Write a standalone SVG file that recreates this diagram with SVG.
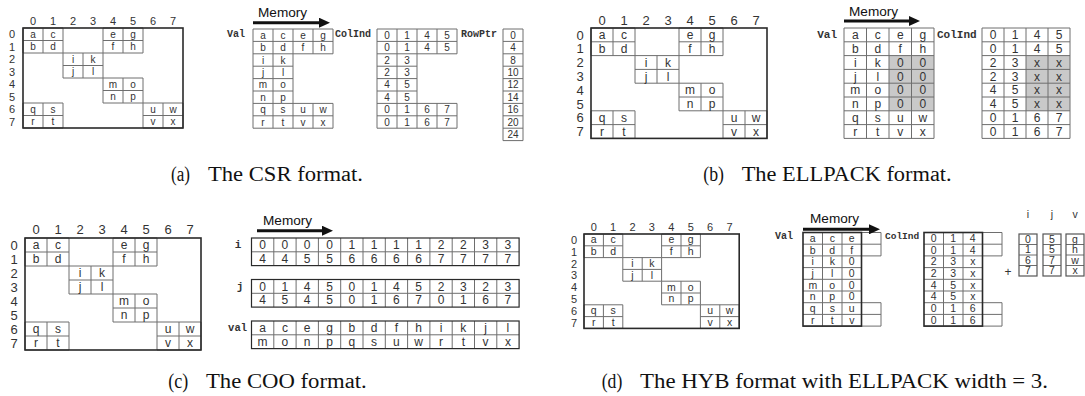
<svg xmlns="http://www.w3.org/2000/svg" width="1085" height="396" viewBox="0 0 1085 396">
<style>
.g{fill:none;stroke:#6e6e6e;stroke-width:1}
.fr{fill:none;stroke:#2a2a2a;stroke-width:1.6}
.sh{fill:#c9c9c9;stroke:none}
text{font-family:"Liberation Sans",Arial,sans-serif;fill:#333;text-anchor:middle}
.s10 text{font-size:10px}
.s105 text{font-size:10.5px}
.s11 text{font-size:11px}
.s12 text{font-size:12px}
.s13 text{font-size:13px}
text.mono{font-family:"Liberation Mono","Courier New",monospace;font-weight:bold;fill:#333}
text.mem{font-size:13.6px;fill:#111;text-anchor:start}
text.cap{font-family:"Liberation Serif","Times New Roman",serif;font-size:20.5px;fill:#111;text-anchor:start}
.arr{stroke:#111;stroke-width:3;fill:none}
</style>
<defs>
<marker id="ah" viewBox="0 0 11 10" refX="3" refY="5" markerWidth="11" markerHeight="10" markerUnits="userSpaceOnUse" orient="auto"><path d="M0,0 L11,5 L0,10 z" fill="#111"/></marker>
</defs>

<!-- ===== Panel (a) ===== -->
<g id="a-matrix">
<path class="g" d="M23 28h40v25h-40zM43 28v25M23 40.5h40M103 28h40v25h-40zM123 28v25M103 40.5h40M63 53h40v25h-40zM83 53v25M63 65.5h40M103 78h40v25h-40zM123 78v25M103 90.5h40M23 103h40v25h-40zM43 103v25M23 115.5h40M143 103h40v25h-40zM163 103v25M143 115.5h40"/>
<rect class="fr" x="23" y="28" width="160" height="100"/>
<g class="s11">
<text x="33" y="25">0</text><text x="53" y="25">1</text><text x="73" y="25">2</text><text x="93" y="25">3</text><text x="113" y="25">4</text><text x="133" y="25">5</text><text x="153" y="25">6</text><text x="173" y="25">7</text>
<text x="12" y="38.25">0</text><text x="12" y="50.75">1</text><text x="12" y="63.25">2</text><text x="12" y="75.75">3</text><text x="12" y="88.25">4</text><text x="12" y="100.75">5</text><text x="12" y="113.25">6</text><text x="12" y="125.75">7</text>
</g>
<g class="s10">
<text x="33" y="37.75">a</text><text x="53" y="37.75">c</text><text x="113" y="37.75">e</text><text x="133" y="37.75">g</text>
<text x="33" y="50.25">b</text><text x="53" y="50.25">d</text><text x="113" y="50.25">f</text><text x="133" y="50.25">h</text>
<text x="73" y="62.75">i</text><text x="93" y="62.75">k</text>
<text x="73" y="75.25">j</text><text x="93" y="75.25">l</text>
<text x="113" y="87.75">m</text><text x="133" y="87.75">o</text>
<text x="113" y="100.25">n</text><text x="133" y="100.25">p</text>
<text x="33" y="112.75">q</text><text x="53" y="112.75">s</text><text x="153" y="112.75">u</text><text x="173" y="112.75">w</text>
<text x="33" y="125.25">r</text><text x="53" y="125.25">t</text><text x="153" y="125.25">v</text><text x="173" y="125.25">x</text>
</g>
</g>

<g id="a-val">
<text class="mono" x="245" y="37" style="font-size:10px;text-anchor:end">Val</text>
<path class="g" d="M253 29H333M253 41.4H333M253 53.8H333M253 66.2H293M253 78.6H293M253 91H293M253 103.4H333M253 115.8H333M253 128.2H333M253 29V128.2M273 29V128.2M293 29V128.2M313 29V53.8M313 103.4V128.2M333 29V53.8M333 103.4V128.2"/>
<g class="s10">
<text x="263" y="38.7">a</text><text x="283" y="38.7">c</text><text x="303" y="38.7">e</text><text x="323" y="38.7">g</text>
<text x="263" y="51.1">b</text><text x="283" y="51.1">d</text><text x="303" y="51.1">f</text><text x="323" y="51.1">h</text>
<text x="263" y="63.5">i</text><text x="283" y="63.5">k</text>
<text x="263" y="75.9">j</text><text x="283" y="75.9">l</text>
<text x="263" y="88.3">m</text><text x="283" y="88.3">o</text>
<text x="263" y="100.7">n</text><text x="283" y="100.7">p</text>
<text x="263" y="113.1">q</text><text x="283" y="113.1">s</text><text x="303" y="113.1">u</text><text x="323" y="113.1">w</text>
<text x="263" y="125.5">r</text><text x="283" y="125.5">t</text><text x="303" y="125.5">v</text><text x="323" y="125.5">x</text>
</g>
</g>

<g id="a-colind">
<text class="mono" x="335" y="37" style="font-size:10px;text-anchor:start">ColInd</text>
<path class="g" d="M377 29H457M377 41.4H457M377 53.8H457M377 66.2H417M377 78.6H417M377 91H417M377 103.4H457M377 115.8H457M377 128.2H457M377 29V128.2M397 29V128.2M417 29V128.2M437 29V53.8M437 103.4V128.2M457 29V53.8M457 103.4V128.2"/>
<g class="s10">
<text x="387" y="38.7">0</text><text x="407" y="38.7">1</text><text x="427" y="38.7">4</text><text x="447" y="38.7">5</text>
<text x="387" y="51.1">0</text><text x="407" y="51.1">1</text><text x="427" y="51.1">4</text><text x="447" y="51.1">5</text>
<text x="387" y="63.5">2</text><text x="407" y="63.5">3</text>
<text x="387" y="75.9">2</text><text x="407" y="75.9">3</text>
<text x="387" y="88.3">4</text><text x="407" y="88.3">5</text>
<text x="387" y="100.7">4</text><text x="407" y="100.7">5</text>
<text x="387" y="113.1">0</text><text x="407" y="113.1">1</text><text x="427" y="113.1">6</text><text x="447" y="113.1">7</text>
<text x="387" y="125.5">0</text><text x="407" y="125.5">1</text><text x="427" y="125.5">6</text><text x="447" y="125.5">7</text>
</g>
</g>

<g id="a-rowptr">
<text class="mono" x="461" y="37" style="font-size:10px;text-anchor:start">RowPtr</text>
<path class="g" d="M503 29H523M503 41.4H523M503 53.8H523M503 66.2H523M503 78.6H523M503 91H523M503 103.4H523M503 115.8H523M503 128.2H523M503 140.6H523M503 29V140.6M523 29V140.6"/>
<g class="s10">
<text x="513" y="38.7">0</text><text x="513" y="51.1">4</text><text x="513" y="63.5">8</text><text x="513" y="75.9">10</text><text x="513" y="88.3">12</text><text x="513" y="100.7">14</text><text x="513" y="113.1">16</text><text x="513" y="125.5">20</text><text x="513" y="137.9">24</text>
</g>
</g>

<g id="a-caption">
<text class="cap" x="171" y="181" textLength="19" lengthAdjust="spacingAndGlyphs">(a)</text>
<text class="cap" x="208" y="181" textLength="155" lengthAdjust="spacingAndGlyphs">The CSR format.</text>
</g>

<!-- ===== Panel (b) ===== -->
<g id="b-matrix">
<path class="g" d="M591 28h44v27.6h-44zM613 28v27.6M591 41.8h44M679 28h44v27.6h-44zM701 28v27.6M679 41.8h44M635 55.6h44v27.6h-44zM657 55.6v27.6M635 69.4h44M679 83.2h44v27.6h-44zM701 83.2v27.6M679 97h44M591 110.8h44v27.6h-44zM613 110.8v27.6M591 124.6h44M723 110.8h44v27.6h-44zM745 110.8v27.6M723 124.6h44"/>
<rect class="fr" x="591" y="28" width="176" height="110.4"/>
<g class="s13">
<text x="602" y="24.5">0</text><text x="624" y="24.5">1</text><text x="646" y="24.5">2</text><text x="668" y="24.5">3</text><text x="690" y="24.5">4</text><text x="712" y="24.5">5</text><text x="734" y="24.5">6</text><text x="756" y="24.5">7</text>
<text x="580" y="39.6">0</text><text x="580" y="53.4">1</text><text x="580" y="67.2">2</text><text x="580" y="81">3</text><text x="580" y="94.8">4</text><text x="580" y="108.6">5</text><text x="580" y="122.4">6</text><text x="580" y="136.2">7</text>
</g>
<g class="s12">
<text x="602" y="39.1">a</text><text x="624" y="39.1">c</text><text x="690" y="39.1">e</text><text x="712" y="39.1">g</text>
<text x="602" y="52.9">b</text><text x="624" y="52.9">d</text><text x="690" y="52.9">f</text><text x="712" y="52.9">h</text>
<text x="646" y="66.7">i</text><text x="668" y="66.7">k</text>
<text x="646" y="80.5">j</text><text x="668" y="80.5">l</text>
<text x="690" y="94.3">m</text><text x="712" y="94.3">o</text>
<text x="690" y="108.1">n</text><text x="712" y="108.1">p</text>
<text x="602" y="121.9">q</text><text x="624" y="121.9">s</text><text x="734" y="121.9">u</text><text x="756" y="121.9">w</text>
<text x="602" y="135.7">r</text><text x="624" y="135.7">t</text><text x="734" y="135.7">v</text><text x="756" y="135.7">x</text>
</g>
</g>

<g id="b-val">
<text class="mono" x="837" y="38" style="font-size:11px;text-anchor:end">Val</text>
<rect class="sh" x="889" y="55.6" width="45" height="55.2"/>
<path class="g" d="M844 28H934M844 41.8H934M844 55.6H934M844 69.4H934M844 83.2H934M844 97H934M844 110.8H934M844 124.6H934M844 138.4H934M844 28V138.4M866.5 28V138.4M889 28V138.4M911.5 28V138.4M934 28V138.4"/>
<g class="s12">
<text x="855.25" y="39.1">a</text><text x="877.75" y="39.1">c</text><text x="900.25" y="39.1">e</text><text x="922.75" y="39.1">g</text>
<text x="855.25" y="52.9">b</text><text x="877.75" y="52.9">d</text><text x="900.25" y="52.9">f</text><text x="922.75" y="52.9">h</text>
<text x="855.25" y="66.7">i</text><text x="877.75" y="66.7">k</text><text x="900.25" y="66.7">0</text><text x="922.75" y="66.7">0</text>
<text x="855.25" y="80.5">j</text><text x="877.75" y="80.5">l</text><text x="900.25" y="80.5">0</text><text x="922.75" y="80.5">0</text>
<text x="855.25" y="94.3">m</text><text x="877.75" y="94.3">o</text><text x="900.25" y="94.3">0</text><text x="922.75" y="94.3">0</text>
<text x="855.25" y="108.1">n</text><text x="877.75" y="108.1">p</text><text x="900.25" y="108.1">0</text><text x="922.75" y="108.1">0</text>
<text x="855.25" y="121.9">q</text><text x="877.75" y="121.9">s</text><text x="900.25" y="121.9">u</text><text x="922.75" y="121.9">w</text>
<text x="855.25" y="135.7">r</text><text x="877.75" y="135.7">t</text><text x="900.25" y="135.7">v</text><text x="922.75" y="135.7">x</text>
</g>
</g>

<g id="b-colind">
<text class="mono" x="937" y="38" style="font-size:11px;text-anchor:start">ColInd</text>
<rect class="sh" x="1026" y="55.6" width="44" height="55.2"/>
<path class="g" d="M982 28H1070M982 41.8H1070M982 55.6H1070M982 69.4H1070M982 83.2H1070M982 97H1070M982 110.8H1070M982 124.6H1070M982 138.4H1070M982 28V138.4M1004 28V138.4M1026 28V138.4M1048 28V138.4M1070 28V138.4"/>
<g class="s12">
<text x="993" y="39.1">0</text><text x="1015" y="39.1">1</text><text x="1037" y="39.1">4</text><text x="1059" y="39.1">5</text>
<text x="993" y="52.9">0</text><text x="1015" y="52.9">1</text><text x="1037" y="52.9">4</text><text x="1059" y="52.9">5</text>
<text x="993" y="66.7">2</text><text x="1015" y="66.7">3</text><text x="1037" y="66.7">x</text><text x="1059" y="66.7">x</text>
<text x="993" y="80.5">2</text><text x="1015" y="80.5">3</text><text x="1037" y="80.5">x</text><text x="1059" y="80.5">x</text>
<text x="993" y="94.3">4</text><text x="1015" y="94.3">5</text><text x="1037" y="94.3">x</text><text x="1059" y="94.3">x</text>
<text x="993" y="108.1">4</text><text x="1015" y="108.1">5</text><text x="1037" y="108.1">x</text><text x="1059" y="108.1">x</text>
<text x="993" y="121.9">0</text><text x="1015" y="121.9">1</text><text x="1037" y="121.9">6</text><text x="1059" y="121.9">7</text>
<text x="993" y="135.7">0</text><text x="1015" y="135.7">1</text><text x="1037" y="135.7">6</text><text x="1059" y="135.7">7</text>
</g>
</g>

<g id="b-caption">
<text class="cap" x="703.3" y="181" textLength="20.7" lengthAdjust="spacingAndGlyphs">(b)</text>
<text class="cap" x="741.7" y="181" textLength="210" lengthAdjust="spacingAndGlyphs">The ELLPACK format.</text>
</g>

<!-- ===== Panel (c) ===== -->
<g id="c-matrix">
<path class="g" d="M25 238h44v28h-44zM47 238v28M25 252h44M113 238h44v28h-44zM135 238v28M113 252h44M69 266h44v28h-44zM91 266v28M69 280h44M113 294h44v28h-44zM135 294v28M113 308h44M25 322h44v28h-44zM47 322v28M25 336h44M157 322h44v28h-44zM179 322v28M157 336h44"/>
<rect class="fr" x="25" y="238" width="176" height="112"/>
<g class="s13">
<text x="36" y="234">0</text><text x="58" y="234">1</text><text x="80" y="234">2</text><text x="102" y="234">3</text><text x="124" y="234">4</text><text x="146" y="234">5</text><text x="168" y="234">6</text><text x="190" y="234">7</text>
<text x="14" y="249.7">0</text><text x="14" y="263.7">1</text><text x="14" y="277.7">2</text><text x="14" y="291.7">3</text><text x="14" y="305.7">4</text><text x="14" y="319.7">5</text><text x="14" y="333.7">6</text><text x="14" y="347.7">7</text>
</g>
<g class="s12">
<text x="36" y="249.2">a</text><text x="58" y="249.2">c</text><text x="124" y="249.2">e</text><text x="146" y="249.2">g</text>
<text x="36" y="263.2">b</text><text x="58" y="263.2">d</text><text x="124" y="263.2">f</text><text x="146" y="263.2">h</text>
<text x="80" y="277.2">i</text><text x="102" y="277.2">k</text>
<text x="80" y="291.2">j</text><text x="102" y="291.2">l</text>
<text x="124" y="305.2">m</text><text x="146" y="305.2">o</text>
<text x="124" y="319.2">n</text><text x="146" y="319.2">p</text>
<text x="36" y="333.2">q</text><text x="58" y="333.2">s</text><text x="168" y="333.2">u</text><text x="190" y="333.2">w</text>
<text x="36" y="347.2">r</text><text x="58" y="347.2">t</text><text x="168" y="347.2">v</text><text x="190" y="347.2">x</text>
</g>
</g>

<g id="c-i">
<text class="mono" x="238" y="248" style="font-size:11px">i</text>
<path class="g" d="M251.5 251.8H519.1M273.8 238V265.6M296.1 238V265.6M318.4 238V265.6M340.7 238V265.6M363 238V265.6M385.3 238V265.6M407.6 238V265.6M429.9 238V265.6M452.2 238V265.6M474.5 238V265.6M496.8 238V265.6"/>
<rect class="fr" style="stroke-width:1.2" x="251.5" y="238" width="267.6" height="27.6"/>
<g class="s12">
<text x="262.6" y="249.1">0</text><text x="284.9" y="249.1">0</text><text x="307.2" y="249.1">0</text><text x="329.5" y="249.1">0</text><text x="351.8" y="249.1">1</text><text x="374.1" y="249.1">1</text><text x="396.4" y="249.1">1</text><text x="418.7" y="249.1">1</text><text x="441" y="249.1">2</text><text x="463.3" y="249.1">2</text><text x="485.6" y="249.1">3</text><text x="507.9" y="249.1">3</text>
<text x="262.6" y="262.9">4</text><text x="284.9" y="262.9">4</text><text x="307.2" y="262.9">5</text><text x="329.5" y="262.9">5</text><text x="351.8" y="262.9">6</text><text x="374.1" y="262.9">6</text><text x="396.4" y="262.9">6</text><text x="418.7" y="262.9">6</text><text x="441" y="262.9">7</text><text x="463.3" y="262.9">7</text><text x="485.6" y="262.9">7</text><text x="507.9" y="262.9">7</text>
</g>
</g>

<g id="c-j">
<text class="mono" x="240" y="290" style="font-size:11px">j</text>
<path class="g" d="M251.5 293.3H519.1M273.8 279.5V307.1M296.1 279.5V307.1M318.4 279.5V307.1M340.7 279.5V307.1M363 279.5V307.1M385.3 279.5V307.1M407.6 279.5V307.1M429.9 279.5V307.1M452.2 279.5V307.1M474.5 279.5V307.1M496.8 279.5V307.1"/>
<rect class="fr" style="stroke-width:1.2" x="251.5" y="279.5" width="267.6" height="27.6"/>
<g class="s12">
<text x="262.6" y="290.6">0</text><text x="284.9" y="290.6">1</text><text x="307.2" y="290.6">4</text><text x="329.5" y="290.6">5</text><text x="351.8" y="290.6">0</text><text x="374.1" y="290.6">1</text><text x="396.4" y="290.6">4</text><text x="418.7" y="290.6">5</text><text x="441" y="290.6">2</text><text x="463.3" y="290.6">3</text><text x="485.6" y="290.6">2</text><text x="507.9" y="290.6">3</text>
<text x="262.6" y="304.4">4</text><text x="284.9" y="304.4">5</text><text x="307.2" y="304.4">4</text><text x="329.5" y="304.4">5</text><text x="351.8" y="304.4">0</text><text x="374.1" y="304.4">1</text><text x="396.4" y="304.4">6</text><text x="418.7" y="304.4">7</text><text x="441" y="304.4">0</text><text x="463.3" y="304.4">1</text><text x="485.6" y="304.4">6</text><text x="507.9" y="304.4">7</text>
</g>
</g>

<g id="c-val">
<text class="mono" x="247" y="331" style="font-size:10.5px;text-anchor:end">val</text>
<path class="g" d="M251.5 334.8H519.1M273.8 321V348.6M296.1 321V348.6M318.4 321V348.6M340.7 321V348.6M363 321V348.6M385.3 321V348.6M407.6 321V348.6M429.9 321V348.6M452.2 321V348.6M474.5 321V348.6M496.8 321V348.6"/>
<rect class="fr" style="stroke-width:1.2" x="251.5" y="321" width="267.6" height="27.6"/>
<g class="s12">
<text x="262.6" y="332.1">a</text><text x="284.9" y="332.1">c</text><text x="307.2" y="332.1">e</text><text x="329.5" y="332.1">g</text><text x="351.8" y="332.1">b</text><text x="374.1" y="332.1">d</text><text x="396.4" y="332.1">f</text><text x="418.7" y="332.1">h</text><text x="441" y="332.1">i</text><text x="463.3" y="332.1">k</text><text x="485.6" y="332.1">j</text><text x="507.9" y="332.1">l</text>
<text x="262.6" y="345.9">m</text><text x="284.9" y="345.9">o</text><text x="307.2" y="345.9">n</text><text x="329.5" y="345.9">p</text><text x="351.8" y="345.9">q</text><text x="374.1" y="345.9">s</text><text x="396.4" y="345.9">u</text><text x="418.7" y="345.9">w</text><text x="441" y="345.9">r</text><text x="463.3" y="345.9">t</text><text x="485.6" y="345.9">v</text><text x="507.9" y="345.9">x</text>
</g>
</g>

<g id="c-caption">
<text class="cap" x="168.3" y="388" textLength="20" lengthAdjust="spacingAndGlyphs">(c)</text>
<text class="cap" x="206" y="388" textLength="160.7" lengthAdjust="spacingAndGlyphs">The COO format.</text>
</g>

<!-- ===== Panel (d) ===== -->
<g id="d-matrix">
<path class="g" d="M584 234h38.8v23.6h-38.8zM603.4 234v23.6M584 245.8h38.8M661.6 234h38.8v23.6h-38.8zM681 234v23.6M661.6 245.8h38.8M622.8 257.6h38.8v23.6h-38.8zM642.2 257.6v23.6M622.8 269.4h38.8M661.6 281.2h38.8v23.6h-38.8zM681 281.2v23.6M661.6 293h38.8M584 304.8h38.8v23.6h-38.8zM603.4 304.8v23.6M584 316.6h38.8M700.4 304.8h38.8v23.6h-38.8zM719.8 304.8v23.6M700.4 316.6h38.8"/>
<rect class="fr" x="584" y="234" width="155.2" height="94.4"/>
<g class="s11">
<text x="593.7" y="230.5">0</text><text x="613.1" y="230.5">1</text><text x="632.5" y="230.5">2</text><text x="651.9" y="230.5">3</text><text x="671.3" y="230.5">4</text><text x="690.7" y="230.5">5</text><text x="710.1" y="230.5">6</text><text x="729.5" y="230.5">7</text>
<text x="574" y="243.9">0</text><text x="574" y="255.7">1</text><text x="574" y="267.5">2</text><text x="574" y="279.3">3</text><text x="574" y="291.1">4</text><text x="574" y="302.9">5</text><text x="574" y="314.7">6</text><text x="574" y="326.5">7</text>
</g>
<g class="s105">
<text x="593.7" y="243.4">a</text><text x="613.1" y="243.4">c</text><text x="671.3" y="243.4">e</text><text x="690.7" y="243.4">g</text>
<text x="593.7" y="255.2">b</text><text x="613.1" y="255.2">d</text><text x="671.3" y="255.2">f</text><text x="690.7" y="255.2">h</text>
<text x="632.5" y="267">i</text><text x="651.9" y="267">k</text>
<text x="632.5" y="278.8">j</text><text x="651.9" y="278.8">l</text>
<text x="671.3" y="290.6">m</text><text x="690.7" y="290.6">o</text>
<text x="671.3" y="302.4">n</text><text x="690.7" y="302.4">p</text>
<text x="593.7" y="314.2">q</text><text x="613.1" y="314.2">s</text><text x="710.1" y="314.2">u</text><text x="729.5" y="314.2">w</text>
<text x="593.7" y="326">r</text><text x="613.1" y="326">t</text><text x="710.1" y="326">v</text><text x="729.5" y="326">x</text>
</g>
</g>

<g id="d-val">
<text class="mono" x="793" y="239" style="font-size:10px;text-anchor:end">Val</text>
<path class="g" d="M803 232.5H881M803 244.2H881M803 255.9H881M803 267.6H861.5M803 279.3H861.5M803 291H861.5M803 302.7H881M803 314.4H881M803 326.1H881M822.5 232.5V326.1M842 232.5V326.1M881 232.5V255.9M881 302.7V326.1"/>
<rect class="fr" x="803" y="232.5" width="58.5" height="93.6"/>
<g class="s105">
<text x="812.75" y="241.85">a</text><text x="832.25" y="241.85">c</text><text x="851.75" y="241.85">e</text>
<text x="812.75" y="253.55">b</text><text x="832.25" y="253.55">d</text><text x="851.75" y="253.55">f</text>
<text x="812.75" y="265.25">i</text><text x="832.25" y="265.25">k</text><text x="851.75" y="265.25">0</text>
<text x="812.75" y="276.95">j</text><text x="832.25" y="276.95">l</text><text x="851.75" y="276.95">0</text>
<text x="812.75" y="288.65">m</text><text x="832.25" y="288.65">o</text><text x="851.75" y="288.65">0</text>
<text x="812.75" y="300.35">n</text><text x="832.25" y="300.35">p</text><text x="851.75" y="300.35">0</text>
<text x="812.75" y="312.05">q</text><text x="832.25" y="312.05">s</text><text x="851.75" y="312.05">u</text>
<text x="812.75" y="323.75">r</text><text x="832.25" y="323.75">t</text><text x="851.75" y="323.75">v</text>
</g>
</g>

<g id="d-colind">
<text class="mono" x="885" y="239" style="font-size:9.5px;text-anchor:start">ColInd</text>
<path class="g" d="M924 232.5H1002M924 244.2H1002M924 255.9H1002M924 267.6H982.5M924 279.3H982.5M924 291H982.5M924 302.7H1002M924 314.4H1002M924 326.1H1002M943.5 232.5V326.1M963 232.5V326.1M1002 232.5V255.9M1002 302.7V326.1"/>
<rect class="fr" x="924" y="232.5" width="58.5" height="93.6"/>
<g class="s105">
<text x="933.75" y="241.85">0</text><text x="953.25" y="241.85">1</text><text x="972.75" y="241.85">4</text>
<text x="933.75" y="253.55">0</text><text x="953.25" y="253.55">1</text><text x="972.75" y="253.55">4</text>
<text x="933.75" y="265.25">2</text><text x="953.25" y="265.25">3</text><text x="972.75" y="265.25">x</text>
<text x="933.75" y="276.95">2</text><text x="953.25" y="276.95">3</text><text x="972.75" y="276.95">x</text>
<text x="933.75" y="288.65">4</text><text x="953.25" y="288.65">5</text><text x="972.75" y="288.65">x</text>
<text x="933.75" y="300.35">4</text><text x="953.25" y="300.35">5</text><text x="972.75" y="300.35">x</text>
<text x="933.75" y="312.05">0</text><text x="953.25" y="312.05">1</text><text x="972.75" y="312.05">6</text>
<text x="933.75" y="323.75">0</text><text x="953.25" y="323.75">1</text><text x="972.75" y="323.75">6</text>
</g>
</g>

<g id="d-coo">
<g class="s12"><text x="1008" y="275.5">+</text></g>
<path class="g" d="M1019 244.5H1037M1019 255H1037M1019 265.5H1037M1043 244.5H1061M1043 255H1061M1043 265.5H1061M1066 244.5H1084M1066 255H1084M1066 265.5H1084"/>
<rect class="fr" style="stroke-width:1.2;stroke:#555" x="1019" y="234" width="18" height="42"/>
<rect class="fr" style="stroke-width:1.2;stroke:#555" x="1043" y="234" width="18" height="42"/>
<rect class="fr" style="stroke-width:1.2;stroke:#555" x="1066" y="234" width="18" height="42"/>
<g class="s105">
<text x="1028" y="218">i</text><text x="1052" y="218">j</text><text x="1075" y="218">v</text>
<text x="1028" y="242.75">0</text><text x="1028" y="253.25">1</text><text x="1028" y="263.75">6</text><text x="1028" y="274.25">7</text>
<text x="1052" y="242.75">5</text><text x="1052" y="253.25">5</text><text x="1052" y="263.75">7</text><text x="1052" y="274.25">7</text>
<text x="1075" y="242.75">g</text><text x="1075" y="253.25">h</text><text x="1075" y="263.75">w</text><text x="1075" y="274.25">x</text>
</g>
</g>

<g id="d-caption">
<text class="cap" x="601.7" y="388" textLength="20.6" lengthAdjust="spacingAndGlyphs">(d)</text>
<text class="cap" x="640" y="388" textLength="408" lengthAdjust="spacingAndGlyphs">The HYB format with ELLPACK width = 3.</text>
</g>

<!-- Memory labels and arrows -->
<g id="memory-labels">
<text class="mem" x="258" y="17.3">Memory</text>
<text class="mem" x="849" y="16">Memory</text>
<text class="mem" x="263" y="225">Memory</text>
<text class="mem" x="810" y="222.5">Memory</text>
</g>
<g id="connectors">
<line class="arr" x1="253" y1="22.7" x2="322" y2="22.7" marker-end="url(#ah)"/>
<line class="arr" x1="844" y1="21" x2="912" y2="21" marker-end="url(#ah)"/>
<line class="arr" x1="257" y1="230.7" x2="325" y2="230.7" marker-end="url(#ah)"/>
<line class="arr" x1="803" y1="229.3" x2="872" y2="229.3" marker-end="url(#ah)"/>
</g>
</svg>
